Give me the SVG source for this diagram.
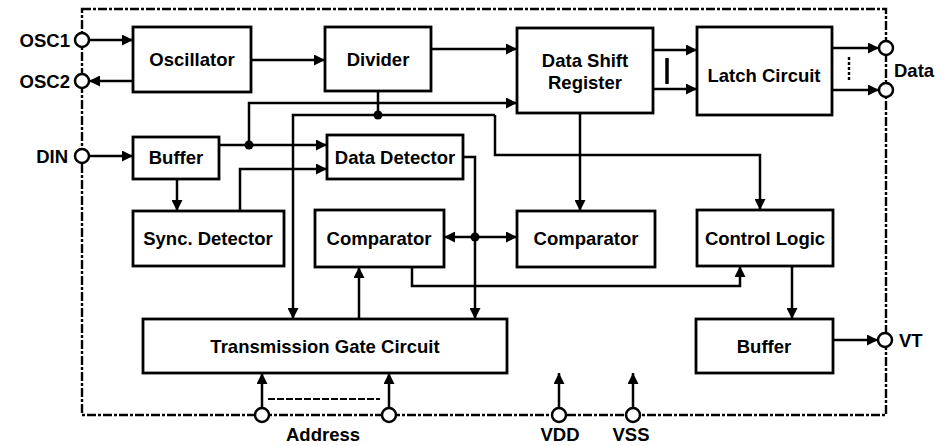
<svg xmlns="http://www.w3.org/2000/svg" width="949" height="446" viewBox="0 0 949 446">
<style>
.box{fill:#fff;stroke:#000;stroke-width:2.8}
.lbl{font-family:"Liberation Sans",Arial,sans-serif;font-weight:bold;font-size:18.5px;fill:#000;text-anchor:middle}
.pin{font-family:"Liberation Sans",Arial,sans-serif;font-weight:bold;font-size:18.5px;fill:#000}
.w{fill:none;stroke:#000;stroke-width:2.5}
.a{marker-end:url(#ah)}
.border{fill:none;stroke:#000;stroke-width:2.4;stroke-dasharray:9 2 3 2}
.pc{fill:#fff;stroke:#000;stroke-width:2.5}
</style>
<defs>
<marker id="ah" viewBox="0 0 10 10" refX="10" refY="5" markerWidth="12" markerHeight="11" markerUnits="userSpaceOnUse" orient="auto"><path d="M0,0 L10,5 L0,10 z" fill="#000"/></marker>
</defs>
<rect width="949" height="446" fill="#fff"/>
<rect class="border" x="82" y="9" width="804" height="406"/>

<g id="connectors">
<path class="w a" d="M89,40 H133"/>
<path class="w a" d="M133,81 H89"/>
<path class="w a" d="M251,60 H325"/>
<path class="w a" d="M431,49 H517"/>
<path class="w a" d="M89,156 H133"/>
<path class="w a" d="M219,145 H327"/>
<path class="w a" d="M249,145 V103 H517"/>
<path class="w a" d="M240,211 V169 H327"/>
<path class="w a" d="M177,179 V211"/>
<path class="w" d="M378,91 V115"/>
<path class="w a" d="M495,115 H293 V319"/>
<path class="w a" d="M495,115 V155 H760 V210"/>
<path class="w a" d="M580,113 V211"/>
<path class="w a" d="M463,157 H475 V319"/>
<path class="w a" d="M475,237 H444"/>
<path class="w a" d="M475,237 H517"/>
<path class="w a" d="M412,267 V286 H740 V266"/>
<path class="w a" d="M359,319 V267"/>
<path class="w a" d="M792,266 V319"/>
<path class="w a" d="M833,340 H878"/>
<path class="w a" d="M653,50 H697"/>
<path class="w a" d="M653,89 H697"/>
<path class="w a" d="M832,48 H879"/>
<path class="w a" d="M832,90 H879"/>
<path class="w a" d="M262,408 V373"/>
<path class="w a" d="M389,408 V373"/>
<path class="w a" d="M559,408 V373"/>
<path class="w a" d="M633,408 V373"/>
<path d="M667,58 V84" stroke="#000" stroke-width="3.5"/>
<path d="M849,57 V81" stroke="#000" stroke-width="2.4" stroke-dasharray="3 2"/>
<path d="M268,399 H380" stroke="#000" stroke-width="1.8" stroke-dasharray="7 2"/>
<circle cx="249" cy="145" r="4.5"/>
<circle cx="378" cy="115" r="4.5"/>
<circle cx="475" cy="237" r="4.5"/>
</g>

<g id="pins">
<circle class="pc" cx="82" cy="40" r="7"/>
<circle class="pc" cx="82" cy="81" r="7"/>
<circle class="pc" cx="82" cy="156" r="7"/>
<circle class="pc" cx="886" cy="48" r="7"/>
<circle class="pc" cx="886" cy="90" r="7"/>
<circle class="pc" cx="885" cy="340" r="7"/>
<circle class="pc" cx="262" cy="415" r="7"/>
<circle class="pc" cx="389" cy="415" r="7"/>
<circle class="pc" cx="559" cy="415" r="7"/>
<circle class="pc" cx="633" cy="415" r="7"/>
<text class="pin" x="70" y="47" text-anchor="end">OSC1</text>
<text class="pin" x="70" y="88" text-anchor="end">OSC2</text>
<text class="pin" x="68" y="163" text-anchor="end">DIN</text>
<text class="pin" x="894" y="77">Data</text>
<text class="pin" x="899" y="347">VT</text>
<text class="pin" x="323" y="441" text-anchor="middle">Address</text>
<text class="pin" x="560" y="441" text-anchor="middle">VDD</text>
<text class="pin" x="631" y="441" text-anchor="middle">VSS</text>
</g>

<g id="oscillator"><rect class="box" x="133" y="27" width="118" height="65"/><text class="lbl" x="192" y="66">Oscillator</text></g>
<g id="divider"><rect class="box" x="325" y="27" width="106" height="64"/><text class="lbl" x="378" y="66">Divider</text></g>
<g id="data-shift-register"><rect class="box" x="517" y="28" width="136" height="85"/><text class="lbl" x="585" y="67">Data Shift</text><text class="lbl" x="585" y="89">Register</text></g>
<g id="latch-circuit"><rect class="box" x="697" y="27" width="135" height="88"/><text class="lbl" x="764" y="82">Latch Circuit</text></g>
<g id="buffer-in"><rect class="box" x="133" y="137" width="86" height="42"/><text class="lbl" x="176" y="164">Buffer</text></g>
<g id="data-detector"><rect class="box" x="327" y="135" width="136" height="44"/><text class="lbl" x="395" y="164">Data Detector</text></g>
<g id="sync-detector"><rect class="box" x="133" y="211" width="151" height="55"/><text class="lbl" x="208" y="245">Sync. Detector</text></g>
<g id="comparator-left"><rect class="box" x="315" y="210" width="129" height="57"/><text class="lbl" x="379" y="245">Comparator</text></g>
<g id="comparator-right"><rect class="box" x="517" y="211" width="138" height="56"/><text class="lbl" x="586" y="245">Comparator</text></g>
<g id="control-logic"><rect class="box" x="697" y="210" width="136" height="56"/><text class="lbl" x="765" y="245">Control Logic</text></g>
<g id="transmission-gate-circuit"><rect class="box" x="143" y="319" width="364" height="54"/><text class="lbl" x="325" y="353">Transmission Gate Circuit</text></g>
<g id="buffer-out"><rect class="box" x="696" y="319" width="137" height="54"/><text class="lbl" x="764" y="353">Buffer</text></g>
</svg>
